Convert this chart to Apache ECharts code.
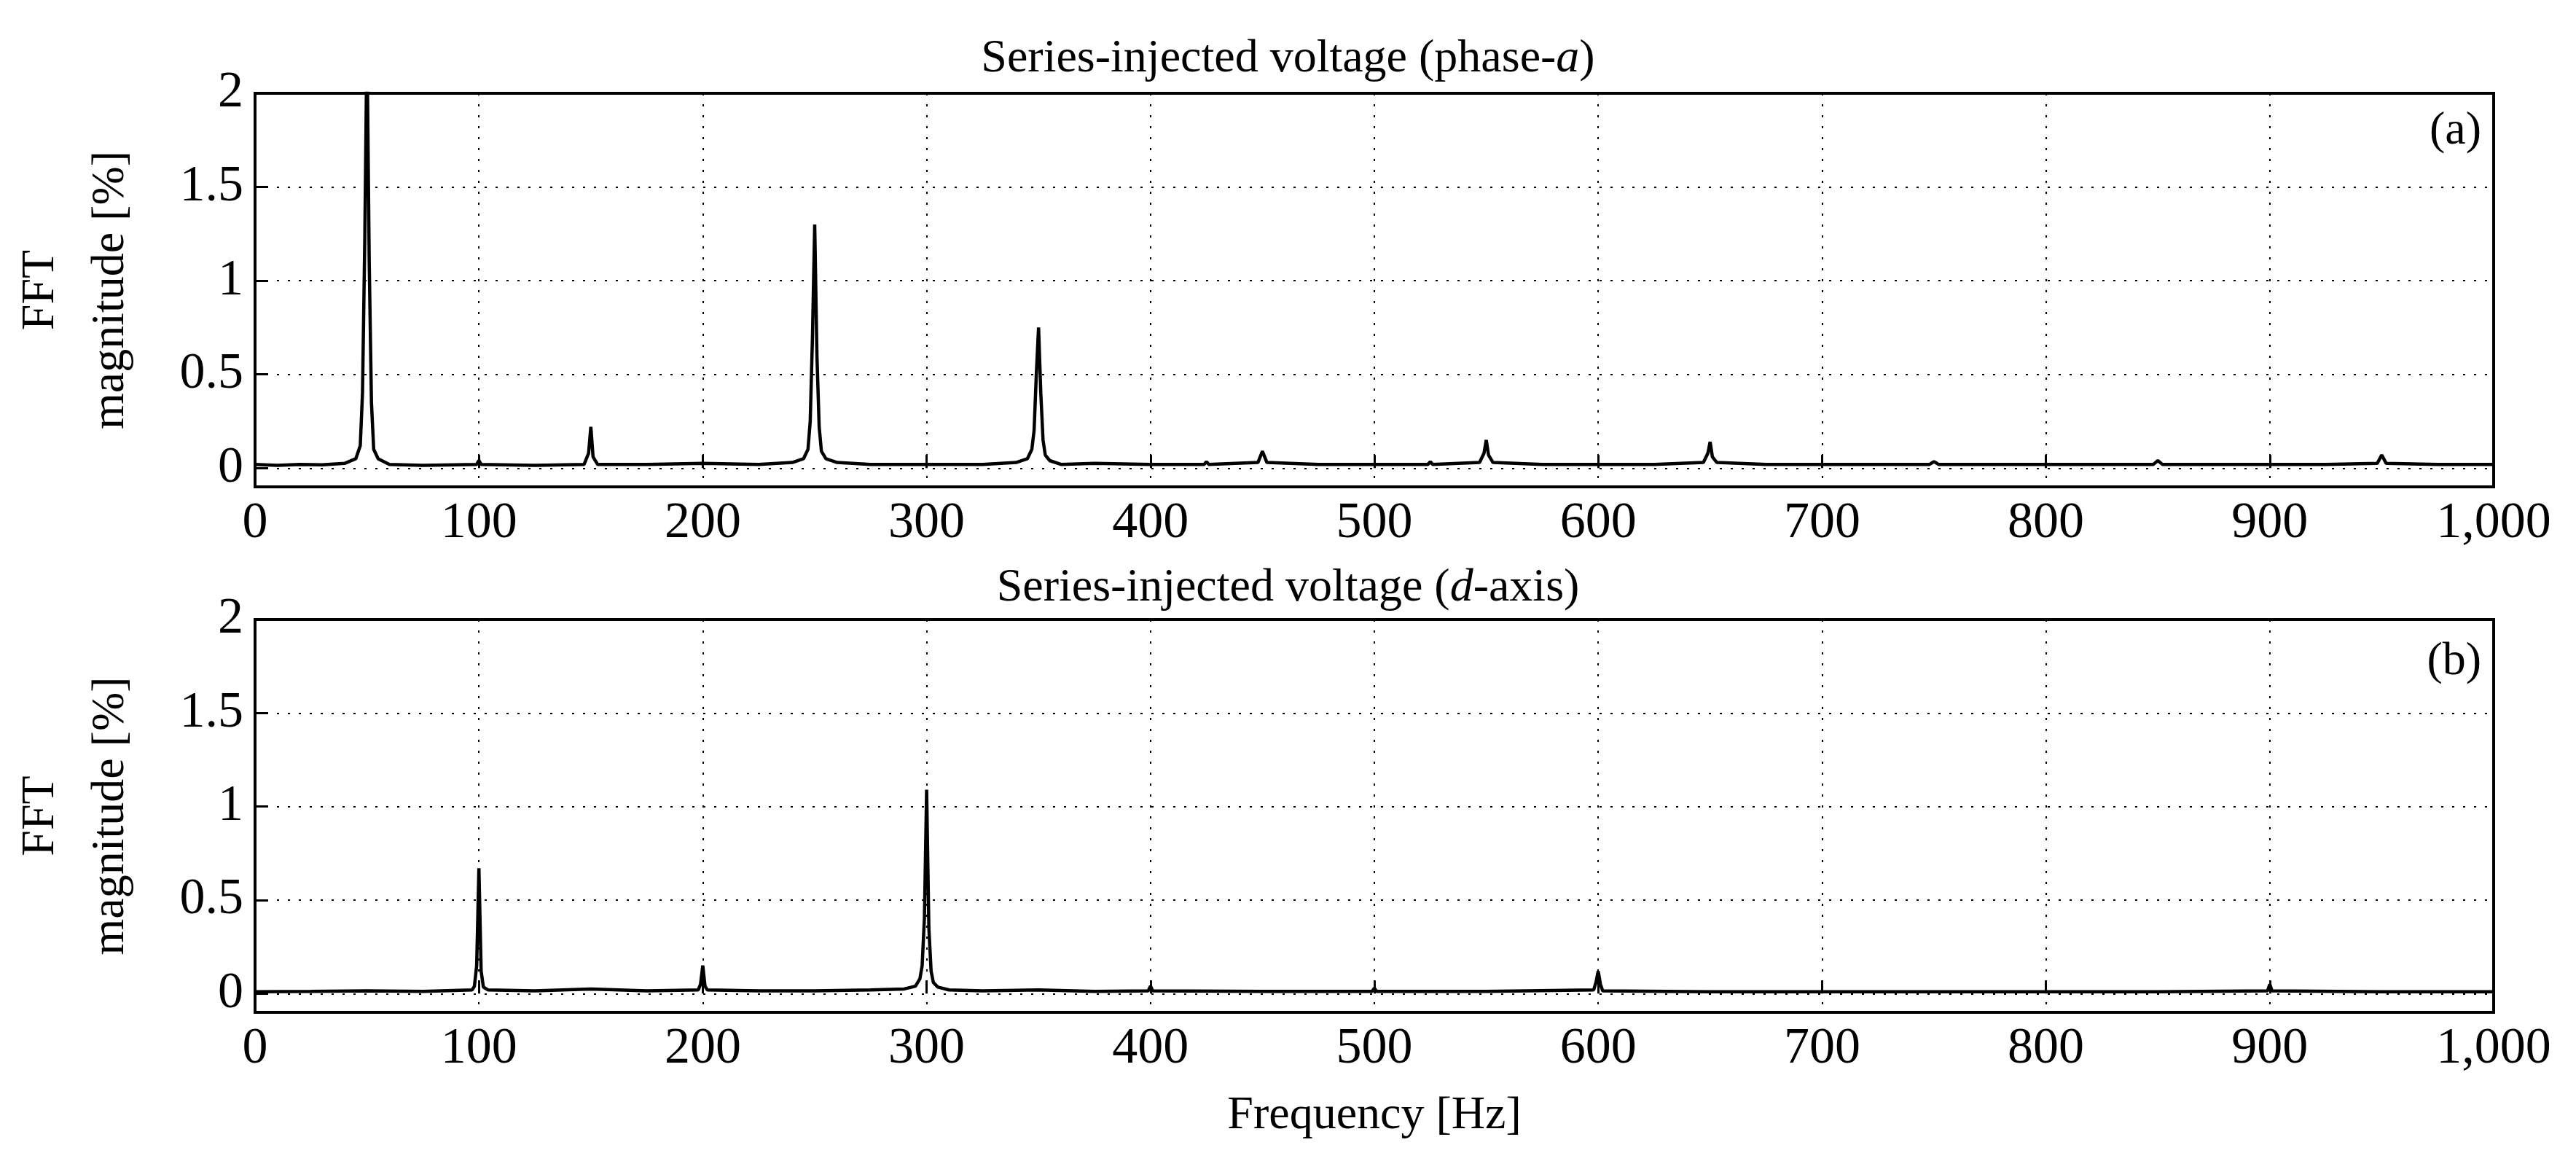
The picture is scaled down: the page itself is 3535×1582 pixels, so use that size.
<!DOCTYPE html>
<html><head><meta charset="utf-8">
<script src="https://cdn.jsdelivr.net/npm/echarts@6/dist/echarts.min.js"></script>
<style>html,body{margin:0;background:#fff}#c{width:3535px;height:1582px}</style>
</head><body><div id="c"></div>
<script>
const xTicks = [0,100,200,300,400,500,600,700,800,900,1000];
const yTicks = [0,0.5,1,1.5,2];
const titles = ['Series-injected voltage (phase-{i|a})','Series-injected voltage ({i|d}-axis)'];
const panelLabels = ['(a)','(b)'];
// phase-a spectrum [Hz, %]
const specA = [
[0,0.02],[10,0.015],[20,0.02],[30,0.018],[40,0.025],[45,0.05],[47,0.12],[48,0.4],[49,1.2],[50,2.3],[51,1.1],[52,0.35],[53,0.1],[55,0.05],[60,0.02],
[75,0.015],[99,0.02],[100,0.04],[101,0.02],[125,0.015],[147,0.02],[149,0.08],[150,0.22],[151,0.06],[153,0.02],[175,0.02],[200,0.025],[225,0.02],
[240,0.03],[245,0.05],[247,0.1],[248,0.25],[249,0.7],[250,1.3],[251,0.6],[252,0.22],[253,0.09],[255,0.05],[260,0.03],[275,0.02],[300,0.02],[325,0.02],
[340,0.03],[345,0.05],[347,0.1],[348,0.2],[349,0.5],[350,0.75],[351,0.4],[352,0.15],[353,0.07],[355,0.04],[360,0.02],[375,0.025],[400,0.02],
[424,0.02],[425,0.035],[426,0.02],[448,0.03],[450,0.09],[452,0.03],[475,0.02],[500,0.02],[524,0.02],[525,0.035],[526,0.02],
[547,0.03],[549,0.08],[550,0.15],[551,0.07],[553,0.03],[575,0.02],[600,0.02],[625,0.02],[647,0.03],[649,0.08],[650,0.14],[651,0.06],[653,0.03],
[675,0.02],[700,0.02],[725,0.02],[748,0.02],[750,0.035],[752,0.02],[775,0.02],[800,0.02],[825,0.02],[848,0.02],[850,0.04],[852,0.02],
[875,0.02],[900,0.02],[925,0.02],[948,0.025],[950,0.07],[952,0.025],[975,0.02],[1000,0.02]
];
// d-axis spectrum [Hz, %]
const specD = [
[0,0.01],[25,0.012],[50,0.015],[75,0.012],[97,0.02],[98,0.04],[99,0.15],[100,0.67],[101,0.12],[102,0.035],[104,0.02],[125,0.015],[150,0.025],[175,0.015],
[198,0.02],[199,0.05],[200,0.15],[201,0.04],[202,0.02],[225,0.015],[250,0.015],[275,0.02],[290,0.025],[295,0.04],[297,0.08],[298,0.15],[299,0.4],[300,1.09],
[301,0.35],[302,0.12],[303,0.06],[305,0.035],[310,0.02],[325,0.015],[350,0.02],[375,0.012],[399,0.015],[400,0.04],[401,0.015],[450,0.012],
[499,0.012],[500,0.03],[501,0.012],[550,0.012],[598,0.02],[599,0.06],[600,0.12],[601,0.05],[602,0.015],[650,0.01],[700,0.01],[750,0.01],
[800,0.01],[850,0.01],[899,0.015],[900,0.05],[901,0.015],[950,0.01],[1000,0.01]
];
const font = 'Liberation Serif';
const grids = [{left:334,right:113,top:128,height:540},{left:334,right:113,top:850,height:539}];
const hLines = yTicks.map(v=>({yAxis:v}));
function mk(i, data){
  return {type:'line', xAxisIndex:i, yAxisIndex:i, data, showSymbol:false, clip:true,
    lineStyle:{color:'#000',width:4.5}, silent:true,
    markLine:{silent:true, symbol:'none', label:{show:false},
      lineStyle:{type:[3,12],color:'#000',width:2}, data:hLines}};
}
const opt = {
  animation:false,
  title: titles.map((t,i)=>({text:t, left:'center', top:i?770:44,
    textStyle:{fontFamily:font,fontSize:64,fontWeight:'normal',color:'#000',
      rich:{i:{fontFamily:font,fontSize:64,fontStyle:'italic'}}}})),
  grid: grids.map(g=>Object.assign({show:true,borderColor:'#000',borderWidth:4,backgroundColor:'transparent'},g)),
  xAxis: [0,1].map(i=>({type:'value',gridIndex:i,min:0,max:1000,interval:100,
    name:i?'Frequency [Hz]':'', nameLocation:'middle', nameGap:110,
    nameTextStyle:{fontFamily:font,fontSize:64,color:'#000'},
    axisLine:{show:false}, axisTick:{inside:true,length:18,lineStyle:{color:'#000',width:3}},
    axisLabel:{fontFamily:font,fontSize:70,color:'#000',margin:16},
    splitLine:{show:true,lineStyle:{type:[3,12],color:'#000',width:2}}})),
  yAxis: [0,1].map(i=>({type:'value',gridIndex:i,min:-0.1,max:2,
    name:'FFT\nmagnitude [%]', nameLocation:'middle', nameGap:150, nameRotate:90,
    nameTextStyle:{fontFamily:font,fontSize:64,color:'#000',lineHeight:96},
    axisLine:{show:false},
    axisTick:{inside:true,length:18,customValues:yTicks,lineStyle:{color:'#000',width:3}},
    axisLabel:{fontFamily:font,fontSize:70,color:'#000',margin:16,customValues:yTicks},
    splitLine:{show:false}})),
  graphic: panelLabels.map((t,i)=>({type:'text', right:130, top:i?876:148,
    style:{text:t,font:'64px "Liberation Serif"',fill:'#000'}})),
  series:[mk(0,specA), mk(1,specD)]
};
echarts.init(document.getElementById('c')).setOption(opt);
</script></body></html>
